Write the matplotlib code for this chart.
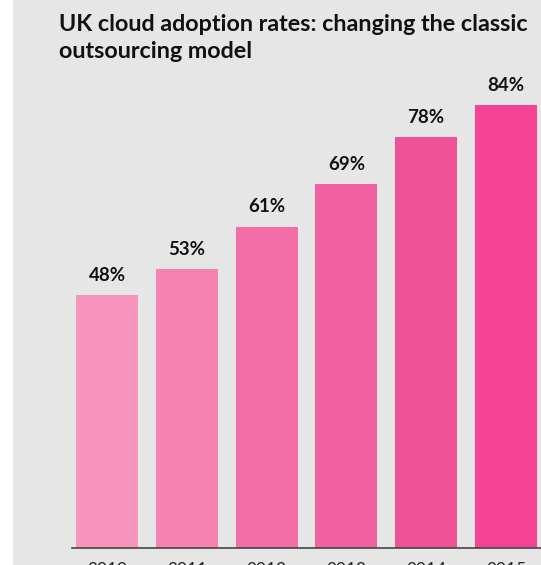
import matplotlib.pyplot as plt
from matplotlib.patches import Rectangle

years = ['2010', '2011', '2012', '2013', '2014', '2015']
rates = [48, 53, 61, 69, 78, 84]
colours = ['#f795bd', '#f582b1', '#f36ea7', '#f362a0', '#f05297', '#f54495']

W, H = 541, 565
fig = plt.figure(figsize=(W / 100, H / 100), dpi=100)
fig.patch.set_facecolor('#e6e6e6')
# thin white strip on the left edge
fig.add_artist(Rectangle((0, 0), 13 / W, 1, transform=fig.transFigure,
                         facecolor='white', edgecolor='none'))

ax = fig.add_axes([72 / W, (H - 548) / H, (W - 72) / W, (548 - 60) / H])
ax.set_facecolor('none')

x = range(len(years))
ax.bar(x, rates, width=0.777, color=colours, zorder=2)
for i, v in enumerate(rates):
    ax.text(i, v + 2.1, f'{v}%', ha='center', va='bottom',
            fontsize=13.5, fontweight='bold', family='Lato', color='#111111')

ax.set_xlim(-0.44, 5.44)
ax.set_ylim(0, 92.6)
ax.set_xticks(list(x))
ax.set_xticklabels(years, family='Lato', fontsize=12.5, color='#222222')
ax.tick_params(axis='x', length=0, pad=10)
ax.set_yticks([])
for s in ['top', 'right', 'left']:
    ax.spines[s].set_visible(False)
ax.spines['bottom'].set_color('#444444')
ax.spines['bottom'].set_linewidth(1.2)

fig.text(59 / W, 1 - 14 / H,
         'UK cloud adoption rates: changing the classic\noutsourcing model',
         ha='left', va='top', fontsize=16.8, fontweight='bold', family='Lato',
         color='#111111', linespacing=1.35)

fig.savefig('out.png', dpi=100, facecolor=fig.get_facecolor())
